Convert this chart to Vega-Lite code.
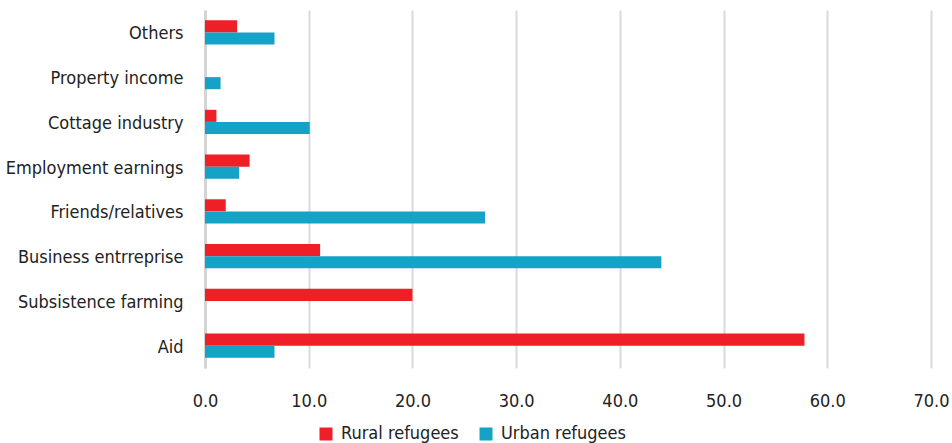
{
  "$schema": "https://vega.github.io/schema/vega-lite/v6.json",
  "autosize": {"type": "none"},
  "padding": {"left": 205, "top": 10, "right": 21, "bottom": 75},
  "width": 726,
  "height": 358,
  "background": "white",
  "config": {
    "view": {"stroke": null},
    "font": "DejaVu Sans Condensed",
    "axis": {"labelFont": "DejaVu Sans Condensed", "labelColor": "#222222", "labelLimit": 300},
    "legend": {"labelFont": "DejaVu Sans Condensed", "labelLimit": 300}
  },
  "data": {
    "values": [
      {"source": "Others", "group": "Rural refugees", "value": 3.1},
      {"source": "Others", "group": "Urban refugees", "value": 6.7},
      {"source": "Property income", "group": "Rural refugees", "value": 0},
      {"source": "Property income", "group": "Urban refugees", "value": 1.5},
      {"source": "Cottage industry", "group": "Rural refugees", "value": 1.1},
      {"source": "Cottage industry", "group": "Urban refugees", "value": 10.1},
      {"source": "Employment earnings", "group": "Rural refugees", "value": 4.3},
      {"source": "Employment earnings", "group": "Urban refugees", "value": 3.3},
      {"source": "Friends/relatives", "group": "Rural refugees", "value": 2.0},
      {"source": "Friends/relatives", "group": "Urban refugees", "value": 27.0},
      {"source": "Business entrreprise", "group": "Rural refugees", "value": 11.1},
      {"source": "Business entrreprise", "group": "Urban refugees", "value": 44.0},
      {"source": "Subsistence farming", "group": "Rural refugees", "value": 20.0},
      {"source": "Subsistence farming", "group": "Urban refugees", "value": 0},
      {"source": "Aid", "group": "Rural refugees", "value": 57.8},
      {"source": "Aid", "group": "Urban refugees", "value": 6.7}
    ]
  },
  "mark": {"type": "bar"},
  "encoding": {
    "y": {
      "field": "source",
      "type": "nominal",
      "sort": ["Others", "Property income", "Cottage industry", "Employment earnings", "Friends/relatives", "Business entrreprise", "Subsistence farming", "Aid"],
      "scale": {"paddingInner": 0.46, "paddingOuter": 0.23},
      "axis": {
        "title": null,
        "ticks": false,
        "labelFontSize": 18,
        "labelPadding": 22,
        "labelOffset": 2,
        "domain": true,
        "domainColor": "#d4d4d4",
        "domainWidth": 3
      }
    },
    "yOffset": {
      "field": "group",
      "type": "nominal",
      "sort": ["Rural refugees", "Urban refugees"]
    },
    "x": {
      "field": "value",
      "type": "quantitative",
      "scale": {"domain": [0, 70], "nice": false},
      "axis": {
        "title": null,
        "values": [0, 10, 20, 30, 40, 50, 60, 70],
        "format": ".1f",
        "ticks": false,
        "domain": false,
        "grid": true,
        "gridColor": "#d9d9d9",
        "gridWidth": 2,
        "labelFontSize": 18,
        "labelPadding": 24,
        "labelFlush": false
      }
    },
    "color": {
      "field": "group",
      "type": "nominal",
      "scale": {"domain": ["Rural refugees", "Urban refugees"], "range": ["#EE1F26", "#14A2C6"]},
      "legend": {
        "title": null,
        "orient": "none",
        "direction": "horizontal",
        "legendX": 112,
        "legendY": 415,
        "symbolType": "square",
        "symbolSize": 169,
        "symbolStrokeWidth": 0,
        "symbolOpacity": 1,
        "labelFontSize": 18,
        "labelColor": "#222222",
        "labelOffset": 6,
        "columnPadding": 18
      }
    }
  }
}
